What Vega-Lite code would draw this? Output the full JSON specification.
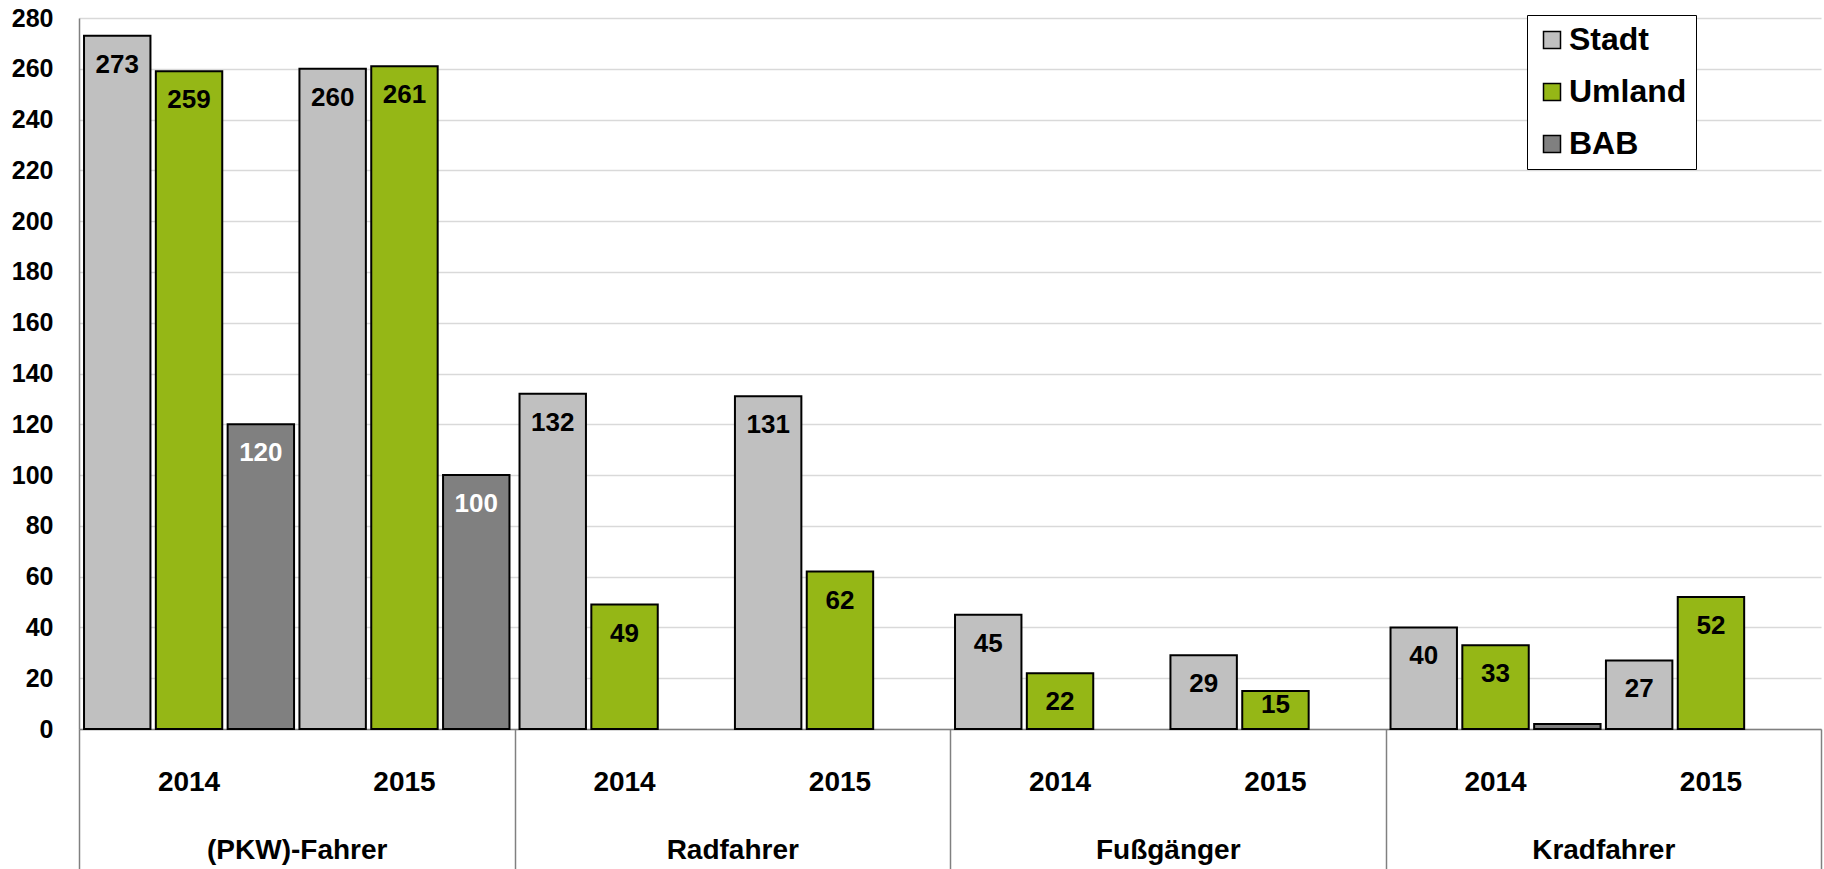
{
  "$schema": "https://vega.github.io/schema/vega-lite/v6.json",
  "width": 1742,
  "height": 711,
  "autosize": {"type": "none"},
  "padding": {"left": 79, "top": 18, "right": 3, "bottom": 140},
  "background": "white",
  "config": {"font": "Liberation Sans", "view": {"stroke": null}},
  "data": {
    "values": [
      {"group": "(PKW)-Fahrer", "year": "2014", "series": "Stadt", "value": 273},
      {"group": "(PKW)-Fahrer", "year": "2014", "series": "Umland", "value": 259},
      {"group": "(PKW)-Fahrer", "year": "2014", "series": "BAB", "value": 120},
      {"group": "(PKW)-Fahrer", "year": "2015", "series": "Stadt", "value": 260},
      {"group": "(PKW)-Fahrer", "year": "2015", "series": "Umland", "value": 261},
      {"group": "(PKW)-Fahrer", "year": "2015", "series": "BAB", "value": 100},
      {"group": "Radfahrer", "year": "2014", "series": "Stadt", "value": 132},
      {"group": "Radfahrer", "year": "2014", "series": "Umland", "value": 49},
      {"group": "Radfahrer", "year": "2015", "series": "Stadt", "value": 131},
      {"group": "Radfahrer", "year": "2015", "series": "Umland", "value": 62},
      {"group": "Fußgänger", "year": "2014", "series": "Stadt", "value": 45},
      {"group": "Fußgänger", "year": "2014", "series": "Umland", "value": 22},
      {"group": "Fußgänger", "year": "2015", "series": "Stadt", "value": 29},
      {"group": "Fußgänger", "year": "2015", "series": "Umland", "value": 15},
      {"group": "Kradfahrer", "year": "2014", "series": "Stadt", "value": 40},
      {"group": "Kradfahrer", "year": "2014", "series": "Umland", "value": 33},
      {"group": "Kradfahrer", "year": "2014", "series": "BAB", "value": 2},
      {"group": "Kradfahrer", "year": "2015", "series": "Stadt", "value": 27},
      {"group": "Kradfahrer", "year": "2015", "series": "Umland", "value": 52}
    ]
  },
  "transform": [
    {"calculate": "datum.year + ' ' + datum.series", "as": "key"},
    {"calculate": "max(datum.value, 21)", "as": "labelPos"}
  ],
  "encoding": {
    "x": {
      "field": "group",
      "type": "nominal",
      "sort": ["(PKW)-Fahrer", "Radfahrer", "Fußgänger", "Kradfahrer"],
      "scale": {"paddingInner": 0, "paddingOuter": 0},
      "axis": {
        "title": null,
        "tickBand": "extent",
        "tickSize": 140,
        "tickColor": "#808080",
        "tickWidth": 1.5,
        "domainColor": "#808080",
        "domainWidth": 1.5,
        "labelFontSize": 28,
        "labelFontWeight": "bold",
        "labelColor": "black",
        "labelAngle": 0,
        "labelLimit": 0,
        "labelBaseline": "middle",
        "labelPadding": -19
      }
    },
    "xOffset": {
      "field": "key",
      "type": "nominal",
      "scale": {
        "domain": ["2014 Stadt", "2014 Umland", "2014 BAB", "2015 Stadt", "2015 Umland", "2015 BAB"],
        "paddingInner": 0.075,
        "paddingOuter": 0.07
      }
    }
  },
  "layer": [
    {
      "mark": {"type": "bar", "stroke": "black", "strokeWidth": 2},
      "encoding": {
        "y": {
          "field": "value",
          "type": "quantitative",
          "scale": {"domain": [0, 280], "nice": false},
          "axis": {
            "title": null,
            "values": [0, 20, 40, 60, 80, 100, 120, 140, 160, 180, 200, 220, 240, 260, 280],
            "grid": true,
            "gridColor": "#d9d9d9",
            "gridWidth": 1.5,
            "ticks": false,
            "domainColor": "#808080",
            "domainWidth": 1.5,
            "labelFontSize": 25,
            "labelFontWeight": "bold",
            "labelColor": "black",
            "labelPadding": 26
          }
        },
        "color": {
          "field": "series",
          "type": "nominal",
          "scale": {"domain": ["Stadt", "Umland", "BAB"], "range": ["#C0C0C0", "#95B716", "#808080"]},
          "legend": {
            "orient": "none",
            "legendX": 1448,
            "legendY": -3,
            "title": null,
            "direction": "vertical",
            "labelFontSize": 32,
            "labelFontWeight": "bold",
            "labelColor": "black",
            "labelLimit": 0,
            "symbolType": "square",
            "symbolSize": 289,
            "symbolStrokeColor": "black",
            "symbolStrokeWidth": 1.5,
            "symbolOpacity": 1,
            "rowPadding": 20,
            "padding": 9,
            "labelOffset": 1,
            "strokeColor": "black",
            "fillColor": "white"
          }
        }
      }
    },
    {
      "transform": [{"filter": "datum.value >= 10"}],
      "mark": {"type": "text", "fontSize": 26, "fontWeight": "bold", "dy": 29, "baseline": "middle", "align": "center"},
      "encoding": {
        "y": {"field": "labelPos", "type": "quantitative", "axis": {"title": null}},
        "text": {"field": "value", "type": "quantitative"},
        "color": {"condition": {"test": "datum.series === 'BAB'", "value": "white"}, "value": "black"}
      }
    },
    {
      "transform": [{"filter": "datum.series === 'Umland'"}],
      "mark": {"type": "text", "fontSize": 28, "fontWeight": "bold", "dy": 54, "baseline": "middle", "align": "center", "color": "black"},
      "encoding": {
        "y": {"datum": 0, "type": "quantitative"},
        "text": {"field": "year", "type": "nominal"}
      }
    }
  ]
}
